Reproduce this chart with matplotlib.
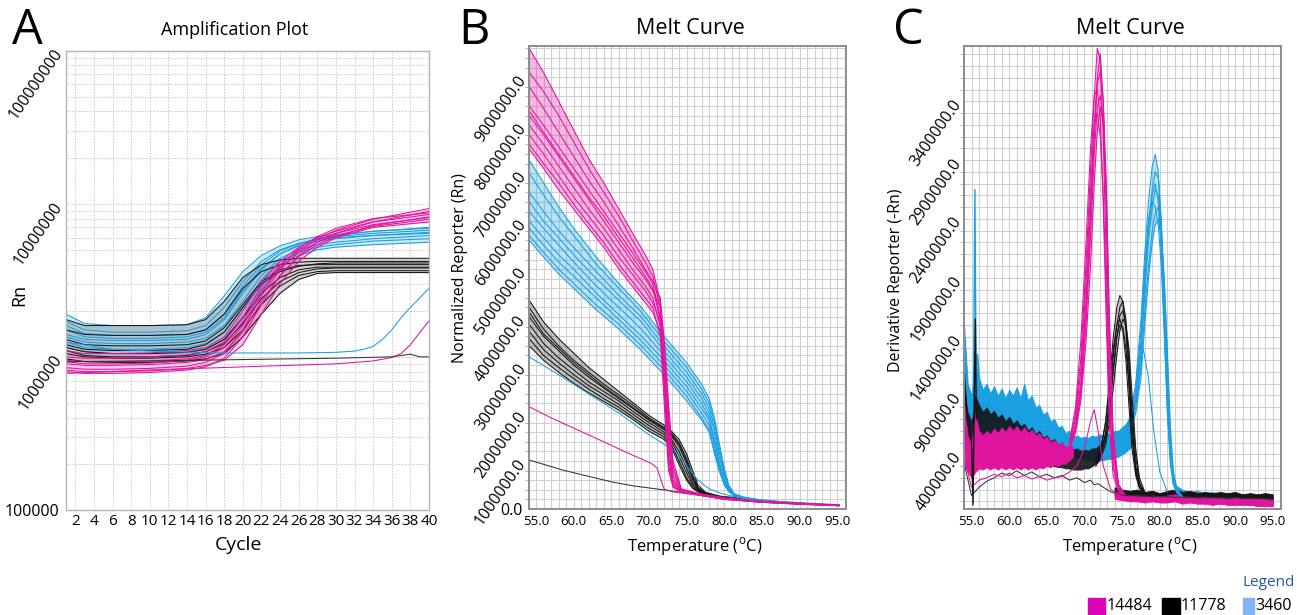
import numpy as np
import matplotlib
matplotlib.use("Agg")
import matplotlib.pyplot as plt
from matplotlib.ticker import MultipleLocator, LogLocator, NullFormatter
from matplotlib.patches import Rectangle

plt.rcParams['font.family'] = ['Open Sans', 'DejaVu Sans']
plt.rcParams['mathtext.fontset'] = 'custom'
plt.rcParams['mathtext.rm'] = 'Open Sans'

PINK = '#e0149f'
BLACK = '#151515'
CYAN = '#1a9fe0'

# ---------------- A: amplification plot (Rn in millions) ----------------
cycles = [1, 3, 6, 10, 14, 16, 18, 20, 22, 24, 26, 28, 30, 34, 40]
amp_pink = [
    [0.80, 0.78, 0.78, 0.79, 0.82, 0.86, 0.98, 1.35, 2.2, 3.4, 4.6, 5.6, 6.4, 7.6, 8.9],
    [0.85, 0.83, 0.83, 0.84, 0.87, 0.92, 1.05, 1.5, 2.5, 3.7, 4.9, 5.9, 6.7, 7.9, 9.3],
    [0.90, 0.88, 0.88, 0.89, 0.92, 0.96, 1.08, 1.45, 2.3, 3.4, 4.5, 5.4, 6.1, 7.2, 8.2],
    [0.95, 0.93, 0.93, 0.94, 0.97, 1.02, 1.2, 1.7, 2.7, 3.8, 4.8, 5.6, 6.2, 7.1, 7.9],
    [1.00, 0.98, 0.98, 1.00, 1.03, 1.08, 1.25, 1.8, 2.9, 4.0, 5.0, 5.8, 6.4, 7.3, 8.1],
    [1.10, 1.05, 1.05, 1.06, 1.10, 1.15, 1.35, 2.0, 3.1, 4.2, 5.2, 6.0, 6.6, 7.6, 8.5],
    [0.82, 0.80, 0.80, 0.81, 0.84, 0.88, 0.95, 1.2, 1.9, 3.0, 4.2, 5.2, 6.0, 7.0, 7.6],
    [0.93, 0.90, 0.90, 0.91, 0.95, 1.00, 1.15, 1.6, 2.6, 3.9, 5.1, 6.1, 6.9, 8.0, 8.7],
]
amp_cyan = [
    [1.90, 1.65, 1.60, 1.60, 1.62, 1.80, 2.5, 3.6, 4.6, 5.3, 5.8, 6.1, 6.3, 6.6, 6.9],
    [1.70, 1.50, 1.45, 1.45, 1.48, 1.60, 2.1, 3.1, 4.2, 5.0, 5.5, 5.9, 6.1, 6.4, 6.7],
    [1.50, 1.35, 1.32, 1.32, 1.35, 1.45, 1.8, 2.7, 3.8, 4.7, 5.3, 5.7, 5.9, 6.2, 6.5],
    [1.35, 1.25, 1.22, 1.22, 1.25, 1.32, 1.6, 2.3, 3.4, 4.4, 5.0, 5.4, 5.6, 5.9, 6.2],
    [1.25, 1.15, 1.12, 1.12, 1.15, 1.22, 1.45, 2.1, 3.2, 4.2, 4.8, 5.2, 5.4, 5.7, 5.9],
    [1.15, 1.08, 1.05, 1.05, 1.07, 1.12, 1.3, 1.8, 2.8, 3.9, 4.6, 5.0, 5.2, 5.4, 5.6],
    [1.40, 1.30, 1.28, 1.28, 1.30, 1.40, 1.75, 2.6, 3.7, 4.7, 5.4, 5.9, 6.2, 6.6, 7.0],
    [1.60, 1.42, 1.38, 1.38, 1.40, 1.50, 1.9, 2.9, 4.0, 4.9, 5.5, 5.8, 6.0, 6.2, 6.4],
]
amp_black = [
    [1.75, 1.60, 1.60, 1.60, 1.62, 1.75, 2.3, 3.3, 4.0, 4.3, 4.4, 4.4, 4.4, 4.4, 4.4],
    [1.50, 1.40, 1.38, 1.38, 1.40, 1.50, 1.9, 2.8, 3.6, 4.0, 4.15, 4.2, 4.2, 4.2, 4.2],
    [1.30, 1.20, 1.18, 1.18, 1.20, 1.27, 1.55, 2.2, 3.1, 3.7, 3.95, 4.0, 4.0, 4.0, 4.0],
    [1.15, 1.08, 1.05, 1.05, 1.07, 1.12, 1.3, 1.8, 2.6, 3.3, 3.7, 3.85, 3.85, 3.85, 3.85],
    [1.05, 1.00, 0.98, 0.98, 1.00, 1.04, 1.15, 1.5, 2.2, 2.9, 3.4, 3.6, 3.65, 3.65, 3.65],
    [0.97, 0.93, 0.92, 0.92, 0.94, 0.97, 1.05, 1.35, 1.9, 2.6, 3.2, 3.5, 3.55, 3.55, 3.55],
    [1.20, 1.12, 1.10, 1.10, 1.12, 1.20, 1.45, 2.1, 3.0, 3.6, 3.9, 4.05, 4.1, 4.1, 4.1],
    [1.10, 1.02, 1.00, 1.00, 1.02, 1.08, 1.22, 1.65, 2.4, 3.1, 3.55, 3.75, 3.8, 3.8, 3.8],
]
late_pink_x = [1, 10, 20, 30, 34, 36, 37, 38, 40]
late_pink_y = [0.78, 0.82, 0.86, 0.90, 0.94, 0.99, 1.05, 1.2, 1.72]
late_cyan_x = [1, 6, 12, 18, 26, 30, 32, 33, 34, 35, 36, 37, 38, 40]
late_cyan_y = [1.25, 1.12, 1.08, 1.06, 1.06, 1.07, 1.09, 1.12, 1.17, 1.3, 1.5, 1.8, 2.1, 2.8]
flat_black_x = [1, 10, 20, 30, 36, 37, 38, 39, 40]
flat_black_y = [0.93, 0.94, 0.96, 0.98, 1.0, 1.02, 1.04, 1.0, 1.0]

# ---------------- B: melt curve, normalized reporter (millions) ----------------
mb_pink_x = [54.1, 56, 58, 60, 62, 64, 66, 68, 69.5, 70.5, 71.5, 72.1, 72.6, 73.2, 74.3, 77, 80, 85, 90, 95.2]
mb_pink = [
    [9.6, 9.1, 8.5, 7.9, 7.3, 6.8, 6.25, 5.7, 5.3, 5.0, 4.3, 2.9, 1.4, 0.6, 0.4, 0.31, 0.23, 0.16, 0.12, 0.08],
    [9.1, 8.7, 8.2, 7.65, 7.1, 6.6, 6.1, 5.55, 5.15, 4.85, 4.2, 2.8, 1.3, 0.55, 0.4, 0.31, 0.23, 0.16, 0.12, 0.08],
    [8.8, 8.35, 7.85, 7.35, 6.85, 6.4, 5.9, 5.4, 5.0, 4.75, 4.4, 3.4, 2.2, 1.0, 0.42, 0.3, 0.22, 0.15, 0.11, 0.08],
    [8.4, 8.0, 7.55, 7.1, 6.65, 6.2, 5.75, 5.3, 4.95, 4.7, 4.0, 2.5, 1.1, 0.5, 0.37, 0.3, 0.22, 0.15, 0.11, 0.07],
    [8.2, 7.8, 7.35, 6.9, 6.45, 6.0, 5.55, 5.1, 4.8, 4.55, 4.2, 3.3, 2.0, 0.9, 0.4, 0.29, 0.21, 0.15, 0.11, 0.07],
    [8.0, 7.6, 7.15, 6.7, 6.25, 5.85, 5.4, 4.95, 4.65, 4.4, 3.8, 2.3, 0.9, 0.48, 0.36, 0.29, 0.21, 0.15, 0.11, 0.07],
    [7.8, 7.4, 6.95, 6.5, 6.1, 5.7, 5.25, 4.85, 4.55, 4.3, 3.9, 3.0, 1.8, 0.8, 0.38, 0.28, 0.21, 0.14, 0.10, 0.07],
    [7.6, 7.2, 6.8, 6.35, 5.95, 5.55, 5.1, 4.7, 4.4, 4.2, 3.6, 2.0, 0.8, 0.45, 0.35, 0.28, 0.20, 0.14, 0.10, 0.07],
    [7.5, 7.1, 6.65, 6.25, 5.85, 5.45, 5.0, 4.6, 4.3, 4.1, 3.7, 2.8, 1.6, 0.7, 0.36, 0.28, 0.20, 0.14, 0.10, 0.07],
    [8.3, 7.85, 7.4, 6.95, 6.5, 6.1, 5.65, 5.2, 4.85, 4.6, 3.95, 2.45, 1.05, 0.5, 0.37, 0.30, 0.22, 0.15, 0.11, 0.07],
]
mb_pink_out_x = [54.1, 57, 60.5, 64, 67, 69.3, 70.3, 71.1, 71.6, 72.0, 73, 76, 80, 85, 90, 95.2]
mb_pink_out_y = [2.13, 1.9, 1.65, 1.4, 1.18, 1.02, 0.95, 0.85, 0.6, 0.42, 0.36, 0.30, 0.22, 0.15, 0.11, 0.07]

mb_cyan_x = [54.1, 56, 58, 60, 63, 66, 69, 72, 75, 77, 78, 78.7, 79.3, 80, 80.6, 81.3, 82.5, 85, 90, 95.2]
mb_cyan = [
    [7.27, 6.8, 6.3, 5.85, 5.25, 4.7, 4.2, 3.6, 3.05, 2.6, 2.3, 1.9, 1.4, 0.85, 0.5, 0.32, 0.25, 0.18, 0.12, 0.08],
    [7.0, 6.55, 6.1, 5.7, 5.1, 4.6, 4.1, 3.5, 2.95, 2.5, 2.2, 1.8, 1.3, 0.8, 0.47, 0.31, 0.25, 0.18, 0.12, 0.08],
    [6.6, 6.2, 5.8, 5.45, 4.95, 4.45, 4.0, 3.4, 2.85, 2.4, 2.1, 1.7, 1.2, 0.75, 0.45, 0.30, 0.24, 0.18, 0.12, 0.08],
    [6.4, 6.0, 5.65, 5.3, 4.8, 4.35, 3.9, 3.3, 2.75, 2.3, 2.0, 1.6, 1.1, 0.7, 0.43, 0.30, 0.24, 0.17, 0.12, 0.08],
    [6.2, 5.85, 5.5, 5.15, 4.65, 4.2, 3.75, 3.2, 2.65, 2.2, 1.9, 1.45, 1.0, 0.62, 0.40, 0.29, 0.23, 0.17, 0.12, 0.08],
    [6.0, 5.65, 5.3, 5.0, 4.5, 4.05, 3.6, 3.1, 2.55, 2.1, 1.85, 1.4, 0.95, 0.6, 0.40, 0.29, 0.23, 0.17, 0.11, 0.08],
    [5.85, 5.5, 5.15, 4.85, 4.4, 3.95, 3.5, 3.0, 2.45, 2.0, 1.75, 1.3, 0.9, 0.55, 0.38, 0.28, 0.23, 0.17, 0.11, 0.08],
    [5.7, 5.35, 5.0, 4.7, 4.25, 3.85, 3.4, 2.9, 2.35, 1.9, 1.65, 1.2, 0.85, 0.52, 0.37, 0.28, 0.22, 0.16, 0.11, 0.08],
    [5.6, 5.25, 4.9, 4.6, 4.15, 3.75, 3.3, 2.8, 2.25, 1.85, 1.6, 1.15, 0.8, 0.5, 0.36, 0.28, 0.22, 0.16, 0.11, 0.08],
]
mb_cyan_out_x = [54.1, 58, 62, 66, 70, 72, 73.5, 75, 76.5, 78, 79.5, 81, 83, 88, 95.2]
mb_cyan_out_y = [3.17, 2.8, 2.4, 2.0, 1.55, 1.35, 1.2, 0.9, 0.6, 0.42, 0.33, 0.27, 0.22, 0.15, 0.09]

mb_black_x = [54.1, 56, 58, 60, 62, 64, 66, 68, 70, 72, 73, 74, 75, 75.8, 76.5, 77.5, 80, 85, 90, 95.2]
mb_black = [
    [4.35, 3.9, 3.55, 3.25, 2.95, 2.7, 2.45, 2.2, 1.95, 1.75, 1.62, 1.45, 1.15, 0.8, 0.5, 0.35, 0.24, 0.16, 0.11, 0.08],
    [4.2, 3.75, 3.4, 3.1, 2.85, 2.6, 2.38, 2.15, 1.9, 1.7, 1.58, 1.38, 1.05, 0.7, 0.45, 0.33, 0.24, 0.16, 0.11, 0.08],
    [4.0, 3.6, 3.3, 3.0, 2.75, 2.52, 2.3, 2.08, 1.85, 1.65, 1.52, 1.3, 0.95, 0.62, 0.42, 0.32, 0.23, 0.16, 0.11, 0.08],
    [3.85, 3.45, 3.15, 2.9, 2.65, 2.45, 2.25, 2.02, 1.8, 1.6, 1.45, 1.2, 0.85, 0.55, 0.40, 0.32, 0.23, 0.16, 0.11, 0.08],
    [3.7, 3.32, 3.05, 2.8, 2.57, 2.38, 2.18, 1.96, 1.74, 1.55, 1.4, 1.1, 0.75, 0.5, 0.38, 0.31, 0.23, 0.16, 0.11, 0.08],
    [3.55, 3.2, 2.95, 2.72, 2.5, 2.3, 2.12, 1.9, 1.68, 1.5, 1.33, 1.0, 0.65, 0.45, 0.37, 0.30, 0.22, 0.15, 0.11, 0.08],
    [3.4, 3.1, 2.85, 2.62, 2.42, 2.24, 2.06, 1.85, 1.62, 1.45, 1.28, 0.92, 0.6, 0.43, 0.36, 0.30, 0.22, 0.15, 0.11, 0.08],
    [4.1, 3.65, 3.35, 3.05, 2.8, 2.55, 2.33, 2.1, 1.87, 1.68, 1.55, 1.35, 1.0, 0.66, 0.44, 0.33, 0.23, 0.16, 0.11, 0.08],
]
mb_black_out_x = [54.1, 58.6, 62, 65.2, 68, 71.9, 75, 80.8, 85, 90, 95.2]
mb_black_out_y = [1.02, 0.81, 0.68, 0.56, 0.48, 0.40, 0.33, 0.25, 0.17, 0.12, 0.08]

# ---------------- C: melt curve, derivative reporter (millions) ----------------
band_x = [54.1, 54.5, 55.0, 55.5, 56.0, 56.5, 57.0, 57.5, 58.0, 58.5, 59.0, 59.5, 60.0, 60.5,
          61.0, 61.5, 62.0, 62.5, 63.0, 63.5, 64.0, 64.5, 65.0, 65.5, 66.0, 66.5, 67.0, 67.5,
          68.0, 68.5, 69.0, 69.5, 70.0, 70.5, 71.0, 71.5, 72.0, 72.5, 73.0, 73.5, 74.0, 74.5,
          75.0, 75.5, 76.0, 76.5]
cyan_up = [1.4, 1.0, 0.9, 1.2, 1.05, 0.95, 1.0, 0.92, 0.98, 0.9, 0.96, 0.88, 0.95, 0.9,
           0.97, 0.88, 1.0, 0.86, 0.9, 0.8, 0.82, 0.74, 0.76, 0.68, 0.7, 0.63, 0.64, 0.58,
           0.6, 0.55, 0.56, 0.54, 0.55, 0.54, 0.56, 0.55, 0.57, 0.56, 0.58, 0.57, 0.6, 0.6,
           0.63, 0.66, 0.72, 0.8]
cyan_lo = [0.5, 0.45, 0.45, 0.5, 0.52, 0.5, 0.52, 0.5, 0.52, 0.5, 0.5, 0.48, 0.5, 0.48,
           0.48, 0.46, 0.47, 0.45, 0.46, 0.44, 0.44, 0.42, 0.43, 0.41, 0.41, 0.4, 0.4, 0.38,
           0.38, 0.37, 0.37, 0.36, 0.36, 0.35, 0.35, 0.35, 0.35, 0.35, 0.36, 0.36, 0.37, 0.38,
           0.4, 0.42, 0.45, 0.5]
black_band_n = 37   # black baseline band runs 54.1 .. 72.0
black_up = [0.95, 0.75, 0.7, 0.9, 0.82, 0.76, 0.8, 0.74, 0.77, 0.71, 0.74, 0.68, 0.72, 0.66,
            0.69, 0.64, 0.66, 0.6, 0.63, 0.57, 0.6, 0.54, 0.56, 0.51, 0.53, 0.48, 0.5, 0.45,
            0.47, 0.44, 0.45, 0.43, 0.44, 0.43, 0.45, 0.45, 0.48]
black_lo = [0.42, 0.38, 0.35, 0.4, 0.42, 0.42, 0.43, 0.42, 0.43, 0.41, 0.42, 0.4, 0.41, 0.39,
            0.4, 0.38, 0.38, 0.36, 0.36, 0.34, 0.34, 0.32, 0.32, 0.3, 0.3, 0.29, 0.29, 0.28,
            0.28, 0.27, 0.27, 0.27, 0.28, 0.28, 0.3, 0.32, 0.35]
pink_band_n = 30    # pink baseline band runs 54.1 .. 68.5
pink_up = [0.8, 0.55, 0.5, 0.75, 0.6, 0.56, 0.6, 0.57, 0.62, 0.58, 0.63, 0.59, 0.64, 0.6,
           0.64, 0.59, 0.63, 0.58, 0.61, 0.56, 0.58, 0.53, 0.55, 0.5, 0.52, 0.48, 0.5, 0.46,
           0.48, 0.46]
pink_lo = [0.3, 0.25, 0.2, 0.25, 0.28, 0.27, 0.29, 0.27, 0.29, 0.27, 0.29, 0.27, 0.29, 0.27,
           0.29, 0.27, 0.29, 0.27, 0.29, 0.27, 0.29, 0.28, 0.3, 0.29, 0.31, 0.3, 0.32, 0.32,
           0.35, 0.38]

cp_x = [76.0, 76.8, 77.5, 78.0, 78.5, 79.0, 79.4, 79.8, 80.2, 80.6, 81.0, 81.4, 81.8, 82.3, 83.0]
cyan_peaks = [
    [0.7, 1.0, 1.55, 2.1, 2.55, 2.85, 2.95, 2.8, 2.3, 1.5, 0.8, 0.35, 0.15, 0.07, 0.04],
    [0.65, 0.9, 1.35, 1.9, 2.35, 2.65, 2.8, 2.75, 2.4, 1.7, 0.95, 0.4, 0.17, 0.07, 0.04],
    [0.6, 0.85, 1.25, 1.75, 2.2, 2.5, 2.65, 2.6, 2.35, 1.8, 1.05, 0.45, 0.18, 0.08, 0.04],
    [0.68, 0.95, 1.45, 2.0, 2.4, 2.55, 2.5, 2.35, 2.0, 1.4, 0.75, 0.32, 0.14, 0.07, 0.04],
    [0.58, 0.8, 1.15, 1.6, 2.0, 2.3, 2.45, 2.5, 2.3, 1.85, 1.2, 0.55, 0.22, 0.09, 0.04],
    [0.62, 0.88, 1.3, 1.85, 2.3, 2.6, 2.7, 2.55, 2.1, 1.5, 0.85, 0.38, 0.16, 0.07, 0.04],
    [0.56, 0.75, 1.05, 1.5, 1.9, 2.2, 2.35, 2.4, 2.25, 1.9, 1.3, 0.65, 0.26, 0.1, 0.04],
]
cyan_early_x = [75, 76, 77, 77.8, 78.5, 79.2, 80, 81]
cyan_early_y = [0.5, 0.65, 0.9, 1.3, 1.05, 0.6, 0.25, 0.08]

kp_x = [71.5, 72.2, 72.8, 73.3, 73.8, 74.3, 74.7, 75.1, 75.5, 75.9, 76.3, 76.8, 77.3, 78.0, 79.0]
black_peaks = [
    [0.35, 0.45, 0.68, 1.0, 1.38, 1.65, 1.75, 1.7, 1.45, 1.0, 0.55, 0.25, 0.12, 0.06, 0.04],
    [0.33, 0.42, 0.58, 0.85, 1.22, 1.5, 1.65, 1.7, 1.55, 1.15, 0.65, 0.3, 0.14, 0.07, 0.04],
    [0.32, 0.4, 0.52, 0.75, 1.08, 1.4, 1.58, 1.62, 1.5, 1.2, 0.78, 0.38, 0.16, 0.07, 0.04],
    [0.35, 0.46, 0.66, 0.95, 1.28, 1.5, 1.55, 1.45, 1.2, 0.82, 0.45, 0.22, 0.11, 0.06, 0.04],
    [0.3, 0.38, 0.48, 0.66, 0.95, 1.25, 1.45, 1.55, 1.5, 1.3, 0.92, 0.45, 0.2, 0.08, 0.04],
    [0.32, 0.42, 0.56, 0.8, 1.12, 1.4, 1.5, 1.48, 1.3, 1.0, 0.6, 0.28, 0.13, 0.06, 0.04],
]

pp_x = [68.0, 68.8, 69.5, 70.2, 70.8, 71.3, 71.7, 72.1, 72.5, 72.9, 73.3, 73.8, 74.5, 75.5]
pink_peaks = [
    [0.48, 0.75, 1.2, 2.0, 2.8, 3.45, 3.85, 3.75, 3.1, 2.0, 0.9, 0.3, 0.1, 0.04],
    [0.46, 0.65, 1.0, 1.7, 2.5, 3.2, 3.6, 3.8, 3.4, 2.4, 1.2, 0.4, 0.12, 0.04],
    [0.45, 0.6, 0.9, 1.5, 2.25, 2.95, 3.35, 3.45, 3.2, 2.5, 1.4, 0.5, 0.14, 0.04],
    [0.5, 0.8, 1.35, 2.2, 3.0, 3.45, 3.5, 3.25, 2.5, 1.5, 0.65, 0.22, 0.08, 0.04],
    [0.45, 0.58, 0.85, 1.35, 2.0, 2.7, 3.15, 3.35, 3.2, 2.6, 1.6, 0.6, 0.15, 0.04],
    [0.47, 0.7, 1.1, 1.85, 2.65, 3.2, 3.3, 3.1, 2.6, 1.75, 0.85, 0.3, 0.1, 0.04],
    [0.45, 0.62, 0.95, 1.6, 2.4, 3.1, 3.55, 3.65, 3.4, 2.7, 1.5, 0.5, 0.14, 0.04],
]

low_x = [54.1, 55, 56, 57, 58, 59, 60, 61, 62, 63, 64, 65, 66, 67, 68, 69, 70, 70.8, 71.3,
         71.8, 72.5, 73.5, 75, 80, 85, 90, 95]
black_low = [0.3, 0.05, 0.12, 0.17, 0.2, 0.24, 0.22, 0.26, 0.22, 0.25, 0.21, 0.23, 0.2, 0.22,
             0.18, 0.2, 0.16, 0.18, 0.14, 0.15, 0.12, 0.08, 0.05, 0.04, 0.03, 0.03, 0.02]
pink_low = [0.35, 0.12, 0.18, 0.2, 0.23, 0.21, 0.24, 0.2, 0.22, 0.19, 0.21, 0.18, 0.2, 0.21,
            0.25, 0.3, 0.45, 0.68, 0.78, 0.6, 0.3, 0.1, 0.04, 0.02, 0.01, 0.0, 0.0]

spike_cyan_x = [54.05, 54.3, 54.6, 55.0, 55.25, 55.45, 55.6, 55.8, 56.1]
spike_cyan_y = [1.5, 1.1, 0.8, 0.7, 0.8, 2.65, 1.1, 1.25, 1.0]
spike_black_x = [54.05, 54.4, 55.0, 55.2, 55.35, 55.5, 55.65, 55.9]
spike_black_y = [1.1, 0.7, 0.5, -0.03, 0.8, 1.55, 0.7, 0.8]

tail_x = [74, 75, 76, 77, 78, 79, 80, 81, 82, 83, 84, 85, 86, 87, 88, 89, 90, 91, 92, 93, 94, 95]
black_tail_up = [0.12, 0.1, 0.09, 0.1, 0.08, 0.09, 0.07, 0.09, 0.1, 0.08, 0.09, 0.07, 0.08, 0.07,
                 0.08, 0.07, 0.08, 0.06, 0.07, 0.06, 0.07, 0.06]
black_tail_lo = [0.05, 0.04, 0.03, 0.04, 0.02, 0.03, 0.02, 0.03, 0.02, 0.01, 0.02, 0.01, 0.02, 0.0,
                 0.01, 0.0, 0.01, -0.01, 0.0, -0.01, 0.0, -0.01]
pink_tail_up = [0.08, 0.06, 0.05, 0.05, 0.04, 0.05, 0.04, 0.05, 0.06, 0.04, 0.04, 0.03, 0.04, 0.03,
                0.03, 0.02, 0.03, 0.02, 0.02, 0.02, 0.02, 0.01]
pink_tail_lo = [0.02, 0.01, 0.0, 0.0, -0.01, 0.0, -0.01, -0.01, 0.0, -0.02, -0.01, -0.02, -0.02, -0.03,
                -0.02, -0.03, -0.03, -0.03, -0.03, -0.04, -0.04, -0.04]
cyan_tail_x = tail_x[8:]   # cyan tail starts after its peak, 82 .. 95
cyan_tail_up = [0.14, 0.1, 0.08, 0.09, 0.07, 0.08, 0.06, 0.07, 0.05, 0.06, 0.05, 0.05, 0.04, 0.04]
cyan_tail_lo = [0.03, 0.01, 0.0, 0.0, -0.01, 0.0, -0.02, -0.01, -0.02, -0.02, -0.03, -0.02, -0.03, -0.03]

legend_labels = ['14484', '11778', '3460']
legend_colors = ['#dd00b4', '#000000', '#80b4f2']

# ---------------- layout helpers (pixel boxes of the 1297x615 canvas) ----------------
W, H = 1297, 615
fig = plt.figure(figsize=(W / 100, H / 100), dpi=100)


def box(l, t, r, b):
    return [l / W, 1 - b / H, (r - l) / W, (b - t) / H]


def ftext(x, y, s, **kw):
    fig.text(x / W, 1 - y / H, s, **kw)


def bundle(ax, x, curves, color, alpha=0.28):
    # shade the spread of a group of curves, then draw each curve
    arr = np.array(curves) * M
    ax.fill_between(x, arr.min(axis=0), arr.max(axis=0), color=color, alpha=alpha, lw=0)
    for c in arr:
        ax.plot(x, c, color=color, lw=LW)


M = 1e6
LW = 0.75

# ---------------- panel A ----------------
axA = fig.add_axes(box(66, 50.5, 429, 510))
bundle(axA, cycles, amp_cyan, CYAN, 0.22)
bundle(axA, cycles, amp_black, BLACK, 0.18)
bundle(axA, cycles, amp_pink, PINK, 0.22)
axA.plot(late_cyan_x, np.array(late_cyan_y) * M, color=CYAN, lw=LW)
axA.plot(late_pink_x, np.array(late_pink_y) * M, color=PINK, lw=LW)
axA.plot(flat_black_x, np.array(flat_black_y) * M, color='#333333', lw=LW)
axA.set_yscale('log')
axA.set_xlim(1, 40)
axA.set_ylim(1e5, 1e8)
axA.set_xticks(range(2, 41, 2))
axA.tick_params(axis='x', labelsize=11, length=0, pad=3)
axA.set_yticks([1e5, 1e6, 1e7, 1e8])
axA.set_yticklabels(['100000', '1000000', '10000000', '100000000'])
axA.yaxis.set_minor_locator(LogLocator(base=10, subs=np.arange(2, 10)))
axA.yaxis.set_minor_formatter(NullFormatter())
axA.tick_params(axis='y', which='both', length=0, labelsize=11.5, pad=5)
for i, lab in enumerate(axA.get_yticklabels()):
    if i > 0:
        lab.set_rotation(55)
        lab.set_rotation_mode('anchor')
        lab.set_va('center')
axA.grid(True, which='both', ls=(0, (1.5, 1.5)), color='#c9c9c9', lw=0.7)
for s in axA.spines.values():
    s.set_color('#b5b5b5')
    s.set_linewidth(1.0)

# ---------------- panel B ----------------
axB = fig.add_axes(box(528.5, 46, 845.5, 509))
bundle(axB, mb_black_x, mb_black, BLACK, 0.25)
axB.plot(mb_black_out_x, np.array(mb_black_out_y) * M, color='#333333', lw=LW)
bundle(axB, mb_cyan_x, mb_cyan, CYAN, 0.3)
axB.plot(mb_cyan_out_x, np.array(mb_cyan_out_y) * M, color=CYAN, lw=LW)
bundle(axB, mb_pink_x, mb_pink, PINK, 0.3)
axB.plot(mb_pink_out_x, np.array(mb_pink_out_y) * M, color=PINK, lw=LW)
axB.set_xlim(54, 96.1)
axB.set_ylim(0, 9.65e6)
axB.set_yticks(np.arange(0, 9.5e6, 1e6))
axB.set_yticklabels(['%.1f' % v for v in np.arange(0, 9.5e6, 1e6)])
axB.yaxis.set_minor_locator(MultipleLocator(2e5))

# ---------------- panel C ----------------
axC = fig.add_axes(box(964, 46, 1281, 509))
bx = np.array(band_x)
axC.fill_between(bx, np.array(cyan_lo) * M, np.array(cyan_up) * M, color=CYAN, lw=0.6, ec=CYAN)
axC.fill_between(bx[:black_band_n], np.array(black_lo) * M, np.array(black_up) * M,
                 color=BLACK, lw=0.6, ec=BLACK, alpha=0.9)
axC.fill_between(bx[:pink_band_n], np.array(pink_lo) * M, np.array(pink_up) * M,
                 color=PINK, lw=0.6, ec=PINK)
axC.fill_between(cyan_tail_x, np.array(cyan_tail_lo) * M, np.array(cyan_tail_up) * M,
                 color=CYAN, lw=0.6, ec=CYAN)
axC.fill_between(tail_x, np.array(black_tail_lo) * M, np.array(black_tail_up) * M,
                 color=BLACK, lw=0.6, ec=BLACK)
axC.fill_between(tail_x, np.array(pink_tail_lo) * M, np.array(pink_tail_up) * M,
                 color=PINK, lw=0.6, ec=PINK)
bundle(axC, cp_x, cyan_peaks, CYAN, 0.3)
axC.plot(cyan_early_x, np.array(cyan_early_y) * M, color=CYAN, lw=LW)
bundle(axC, kp_x, black_peaks, BLACK, 0.25)
bundle(axC, pp_x, pink_peaks, PINK, 0.3)
axC.plot(low_x, np.array(black_low) * M, color='#333333', lw=LW)
axC.plot(low_x, np.array(pink_low) * M, color=PINK, lw=LW)
axC.plot(spike_cyan_x, np.array(spike_cyan_y) * M, color=CYAN, lw=1.0)
axC.plot(spike_black_x, np.array(spike_black_y) * M, color=BLACK, lw=1.0)
axC.set_xlim(54, 96.1)
axC.set_ylim(-0.065e6, 3.87e6)
cticks = np.arange(0.4e6, 3.5e6, 0.5e6)
axC.set_yticks(cticks)
axC.set_yticklabels(['%.1f' % v for v in cticks])
axC.yaxis.set_minor_locator(MultipleLocator(1e5))

for ax in (axB, axC):
    ax.set_xticks(np.arange(55, 96, 5))
    ax.set_xticklabels(['%.1f' % v for v in np.arange(55, 96, 5)])
    ax.xaxis.set_minor_locator(MultipleLocator(1))
    ax.tick_params(axis='x', which='both', length=0, labelsize=9.5, pad=4)
    ax.tick_params(axis='y', which='major', length=0, labelsize=11.5, pad=4)
    ax.tick_params(axis='y', which='minor', length=3, color='#aaaaaa')
    ax.grid(True, which='both', color='#d0d0d0', lw=0.8)
    ax.set_axisbelow(True)
    for s in ax.spines.values():
        s.set_color('#8c8c8c')
        s.set_linewidth(1.4)
    for i, lab in enumerate(ax.get_yticklabels()):
        if not (ax is axB and i == 0):
            lab.set_rotation(55)
            lab.set_rotation_mode('anchor')
            lab.set_va('center')

# ---------------- texts ----------------
ftext(27, 31, 'A', fontsize=35, ha='center', va='center')
ftext(474, 31, 'B', fontsize=35, ha='center', va='center')
ftext(908, 31, 'C', fontsize=35, ha='center', va='center')
ftext(235, 30, 'Amplification Plot', fontsize=13, ha='center', va='center')
ftext(690, 29, 'Melt Curve', fontsize=15.5, ha='center', va='center')
ftext(1130, 29, 'Melt Curve', fontsize=15.5, ha='center', va='center')
ftext(19, 295, 'Rn', fontsize=13, rotation=90, ha='center', va='center')
ftext(460, 268, 'Normalized Reporter (Rn)', fontsize=11.5, rotation=90, ha='center', va='center')
ftext(896, 280, 'Derivative Reporter (-Rn)', fontsize=11.5, rotation=90, ha='center', va='center')
ftext(238, 545, 'Cycle', fontsize=14, ha='center', va='center')
ftext(695, 547, r'Temperature ($^{\rm o}$C)', fontsize=12, ha='center', va='center')
ftext(1130, 547, r'Temperature ($^{\rm o}$C)', fontsize=12, ha='center', va='center')

# legend
ftext(1269, 583, 'Legend', fontsize=11, color='#2157a8', ha='center', va='center')
sq_x = [1088, 1162, 1243]
sq_w = [17, 18, 11]
txt_x = [1107, 1181, 1255]
for x0, w0, tx, lab, col in zip(sq_x, sq_w, txt_x, legend_labels, legend_colors):
    fig.patches.append(Rectangle((x0 / W, 0), w0 / W, 17 / H,
                                 transform=fig.transFigure, color=col))
    ftext(tx, 606, lab, fontsize=11.5, ha='left', va='center')

fig.savefig('out.png', dpi=100)
